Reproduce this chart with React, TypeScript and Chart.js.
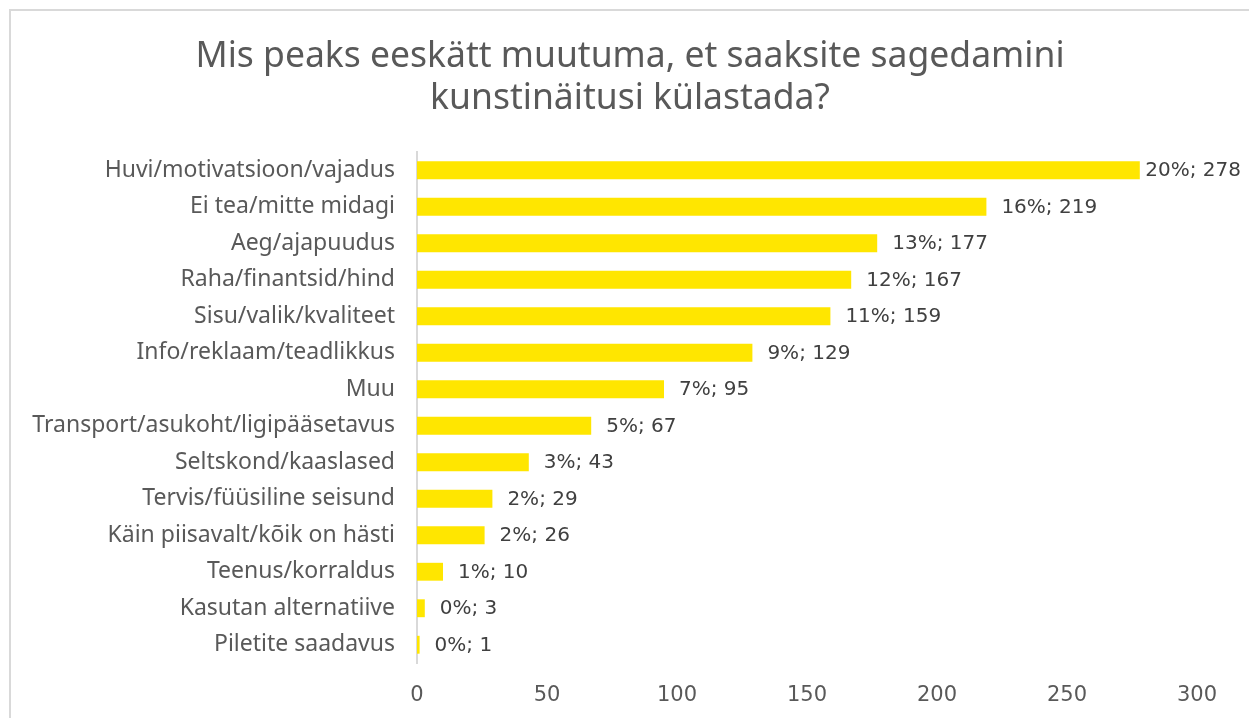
import React, { useEffect, useRef } from "react";
import { Chart, registerables } from "chart.js";

Chart.register(...registerables);

const titleLines = ["Mis peaks eeskätt muutuma, et saaksite sagedamini", "kunstinäitusi külastada?"];
const categories = [
  "Huvi/motivatsioon/vajadus",
  "Ei tea/mitte midagi",
  "Aeg/ajapuudus",
  "Raha/finantsid/hind",
  "Sisu/valik/kvaliteet",
  "Info/reklaam/teadlikkus",
  "Muu",
  "Transport/asukoht/ligipääsetavus",
  "Seltskond/kaaslased",
  "Tervis/füüsiline seisund",
  "Käin piisavalt/kõik on hästi",
  "Teenus/korraldus",
  "Kasutan alternatiive",
  "Piletite saadavus",
];
const counts = [278, 219, 177, 167, 159, 129, 95, 67, 43, 29, 26, 10, 3, 1];
const percents = [20, 16, 13, 12, 11, 9, 7, 5, 3, 2, 2, 1, 0, 0];
const xTicks = [0, 50, 100, 150, 200, 250, 300];

const FONT = "'Noto Sans', sans-serif";
const NUM_FONT = "'DejaVu Sans', sans-serif";

const titlePlugin = {
  id: "customTitle",
  afterDraw(chart: any) {
    const ctx = chart.ctx;
    ctx.save();
    ctx.font = `35.5px ${FONT}`;
    ctx.fillStyle = "#595959";
    ctx.textAlign = "center";
    ctx.textBaseline = "middle";
    titleLines.forEach((line, i) => {
      ctx.fillText(line, 630, 57 + i * 42);
    });
    ctx.restore();
  },
};

const labelPlugin = {
  id: "barLabels",
  afterDatasetsDraw(chart: any) {
    const ctx = chart.ctx;
    const meta = chart.getDatasetMeta(0);
    ctx.save();
    ctx.font = `20px ${NUM_FONT}`;
    ctx.fillStyle = "#404040";
    ctx.textBaseline = "middle";
    ctx.textAlign = "left";
    const limit = chart.width - 8;
    meta.data.forEach((bar: any, i: number) => {
      const text = `${percents[i]}%; ${counts[i]}`;
      const w = ctx.measureText(text).width;
      let x = bar.x + 15;
      if (x + w > limit) x = limit - w;
      ctx.fillText(text, x, bar.y + 1);
    });
    ctx.restore();
  },
};

export default function App() {
  const ref = useRef<HTMLCanvasElement | null>(null);
  useEffect(() => {
    if (!ref.current) return;
    const chart = new Chart(ref.current, {
      type: "bar",
      data: {
        labels: categories,
        datasets: [
          {
            data: counts,
            backgroundColor: "#FFE600",
            borderWidth: 0,
            categoryPercentage: 1,
            barPercentage: 0.49,
          },
        ],
      },
      options: {
        indexAxis: "y",
        animation: false,
        responsive: false,
        layout: { padding: { left: 0, right: 52, top: 152, bottom: 0 } },
        plugins: {
          legend: { display: false },
          tooltip: { enabled: false },
          title: { display: false },
        },
        scales: {
          x: {
            min: 0,
            max: 300,
            afterBuildTicks(scale: any) {
              scale.ticks = xTicks.map((v) => ({ value: v }));
            },
            afterFit(scale: any) {
              scale.height = 55;
            },
            grid: { display: false, drawTicks: false },
            border: { display: false },
            ticks: {
              color: "#595959",
              padding: 20,
              font: { family: NUM_FONT, size: 21 },
              maxRotation: 0,
            },
          },
          y: {
            grid: { display: false, drawTicks: false },
            border: { display: true, color: "#d9d9d9", width: 2 },
            afterFit(scale: any) {
              scale.width = 417;
            },
            ticks: {
              color: "#595959",
              padding: 22,
              autoSkip: false,
              font: { family: FONT, size: 23 },
            },
          },
        },
      },
      plugins: [labelPlugin, titlePlugin],
    });
    return () => chart.destroy();
  }, []);

  return (
    <div style={{ position: "absolute", left: 0, top: 0, width: 1249, height: 718, overflow: "hidden", background: "#fff" }}>
      <div
        style={{
          position: "absolute",
          left: 9,
          top: 9,
          width: 1260,
          height: 740,
          border: "2px solid #d9d9d9",
          boxSizing: "border-box",
        }}
      />
      <canvas ref={ref} width={1249} height={718} style={{ position: "absolute", left: 0, top: 0 }} />
    </div>
  );
}
